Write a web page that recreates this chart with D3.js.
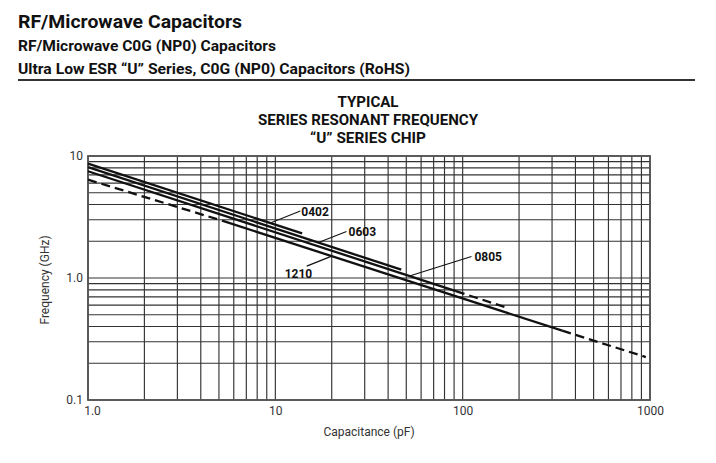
<!DOCTYPE html>
<html>
<head>
<meta charset="utf-8">
<script src="https://cdn.jsdelivr.net/npm/d3@7"></script>
<style>
  body { margin: 0; background: white; }
  text { font-family: Roboto, "Liberation Sans", sans-serif; }
</style>
</head>
<body>
<div id="chart"></div>
<script>
// axis ticks (decades only get a label)
const capTicks = [1, 10, 100, 1000];
const capLabels = ["1.0", "10", "100", "1000"];
const freqTicks = [0.1, 1, 10];
const freqLabels = ["0.1", "1.0", "10"];

// series: [capacitance pF, frequency GHz]
const s0402 = [[1, 8.65], [13.9, 2.32]];
const s0603 = [[1, 8.1], [47, 1.17]];
const s0805 = [[1, 7.5], [92, 0.78]];
const s0805Dash = [[92, 0.78], [170, 0.575]];
const s1210DashLow = [[1, 6.4], [5.2, 2.95]];
const s1210 = [[5.2, 2.95], [340, 0.37]];
const s1210DashHigh = [[340, 0.37], [950, 0.225]];

// series labels and the capacitance where each leader touches its curve
const labelNames = ["0402", "0603", "0805", "1210"];
const labelSeries = [s0402, s0603, s0805, s1210];
const labelAt = [9.4, 17, 52, 20];

const width = 716, height = 463;
const svg = d3.select("#chart").append("svg")
    .attr("width", width).attr("height", height)
    .style("background-color", "white");

//page headings, squeezed to the condensed width of the original
const headings = [
    {t: "RF/Microwave Capacitors", y: 28, size: 19, len: 224},
    {t: "RF/Microwave C0G (NP0) Capacitors", y: 51, size: 15, len: 258},
    {t: "Ultra Low ESR \u201CU\u201D Series, C0G (NP0) Capacitors (RoHS)", y: 74, size: 15, len: 392}
];
headings.forEach(function(h) {
    svg.append("text").attr("x", 18).attr("y", h.y)
        .attr("font-size", h.size).attr("font-weight", 700).attr("fill", "#111")
        .attr("textLength", h.len).attr("lengthAdjust", "spacingAndGlyphs")
        .text(h.t);
});
svg.append("line").attr("x1", 18).attr("x2", 695).attr("y1", 80).attr("y2", 80)
    .attr("stroke", "#333").attr("stroke-width", 2);

//chart title
const titleLines = ["TYPICAL", "SERIES RESONANT FREQUENCY", "\u201CU\u201D SERIES CHIP"];
const titleLens = [61, 220, 116];
titleLines.forEach(function(t, i) {
    svg.append("text").attr("x", 368).attr("y", 107 + i * 18)
        .attr("text-anchor", "middle").attr("font-size", 15).attr("font-weight", 700)
        .attr("fill", "#111")
        .attr("textLength", titleLens[i]).attr("lengthAdjust", "spacingAndGlyphs")
        .text(t);
});

//log scales
const x = d3.scaleLog().domain([1, 1000]).range([88, 650]);
const y = d3.scaleLog().domain([0.1, 10]).range([400, 156]);

//grid lines at every 1..9 of each decade
const grid = svg.append("g").attr("stroke", "#333").attr("stroke-width", 1.15);
grid.selectAll("line.v").data(x.ticks()).enter().append("line")
    .attr("x1", d => x(d)).attr("x2", d => x(d))
    .attr("y1", y(0.1)).attr("y2", y(10));
grid.selectAll("line.h").data(y.ticks()).enter().append("line")
    .attr("x1", x(1)).attr("x2", x(1000))
    .attr("y1", d => y(d)).attr("y2", d => y(d));

//frame
svg.append("rect").attr("x", x(1)).attr("y", y(10))
    .attr("width", x(1000) - x(1)).attr("height", y(0.1) - y(10))
    .attr("fill", "none").attr("stroke", "#555").attr("stroke-width", 1.8);

//axes, labels only
const xAxis = svg.append("g").attr("transform", "translate(0," + y(0.1) + ")")
    .call(d3.axisBottom(x).tickValues(capTicks).tickSize(0).tickPadding(6)
        .tickFormat((d, i) => capLabels[i]));
const yAxis = svg.append("g").attr("transform", "translate(" + x(1) + ",0)")
    .call(d3.axisLeft(y).tickValues(freqTicks).tickSize(0).tickPadding(5)
        .tickFormat((d, i) => freqLabels[i]));
[xAxis, yAxis].forEach(function(a) {
    a.select(".domain").remove();
    a.selectAll("text").attr("font-size", 12).attr("fill", "#333")
        .attr("font-family", "Roboto, sans-serif");
});
xAxis.selectAll(".tick").filter(d => d === 1).select("text").attr("dx", 4);

svg.append("text").attr("x", 369).attr("y", 436).attr("text-anchor", "middle")
    .attr("font-size", 12).attr("fill", "#333").text("Capacitance (pF)");
svg.append("text").attr("transform", "translate(49,280) rotate(-90)")
    .attr("text-anchor", "middle").attr("font-size", 12).attr("fill", "#333")
    .text("Frequency (GHz)");

//curves
const line = d3.line().x(d => x(d[0])).y(d => y(d[1]));
const curves = svg.append("g").attr("fill", "none").attr("stroke", "#111").attr("stroke-width", 2.3);
[s0402, s0603, s0805, s1210].forEach(function(s) {
    curves.append("path").attr("d", line(s));
});
[s0805Dash, s1210DashLow, s1210DashHigh].forEach(function(s) {
    curves.append("path").attr("d", line(s)).attr("stroke-dasharray", "9,5");
});

//find the frequency on a two point series at a given capacitance (log-log straight line)
function freqAt(s, c) {
    const t = Math.log(c / s[0][0]) / Math.log(s[1][0] / s[0][0]);
    return Math.exp(Math.log(s[0][1]) + t * Math.log(s[1][1] / s[0][1]));
}

//leader offsets from the curve and text offsets from the leader end
const leadOff = [[30, -12], [28, -11], [62, -19.5], [-25, 10]];
const textOff = [[1, 5], [2, 4.5], [3, 4.5], [-22, 12]];
labelNames.forEach(function(name, i) {
    const px = x(labelAt[i]), py = y(freqAt(labelSeries[i], labelAt[i]));
    const ex = px + leadOff[i][0], ey = py + leadOff[i][1];
    svg.append("line").attr("x1", px).attr("y1", py).attr("x2", ex).attr("y2", ey)
        .attr("stroke", "#111").attr("stroke-width", 1.1);
    svg.append("text").attr("x", ex + textOff[i][0]).attr("y", ey + textOff[i][1])
        .attr("font-size", 12).attr("font-weight", 700).attr("fill", "#111")
        .text(name);
});
</script>
</body>
</html>
